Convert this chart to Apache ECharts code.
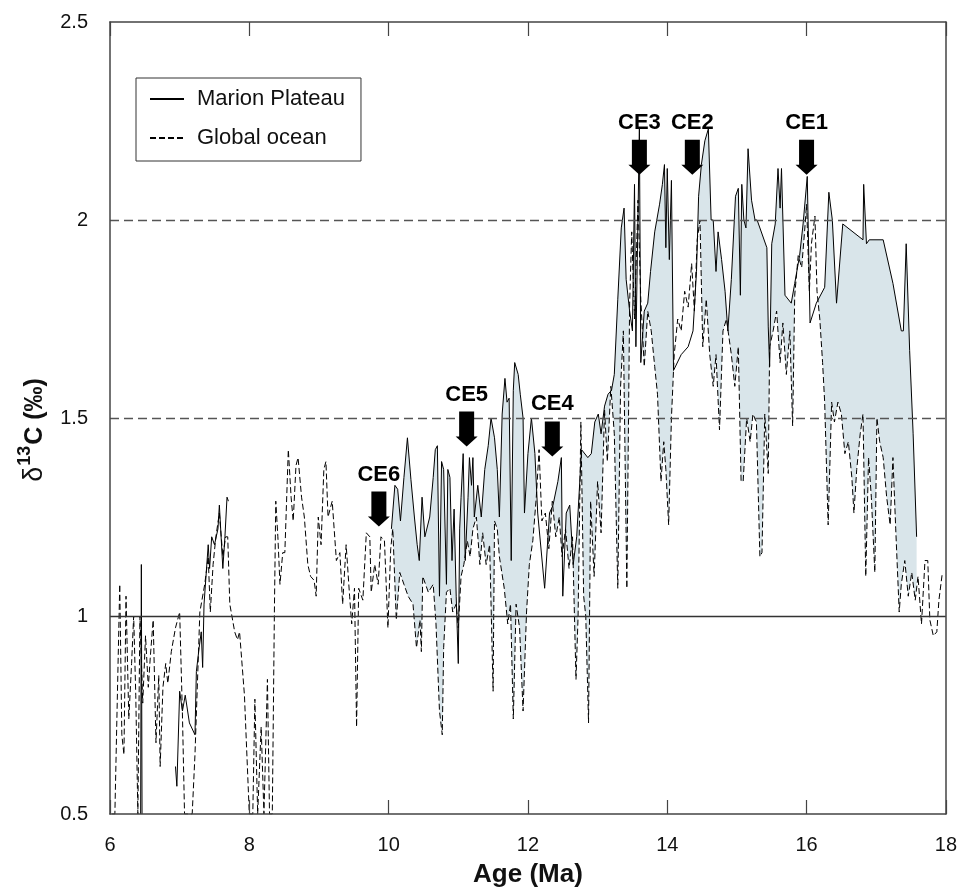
<!DOCTYPE html>
<html>
<head>
<meta charset="utf-8">
<script src="https://cdn.jsdelivr.net/npm/echarts@6/dist/echarts.min.js"></script>
<style>
html,body{margin:0;padding:0;background:#fff;}
#chart{width:960px;height:893px;}
</style>
</head>
<body>
<div id="chart"></div>
<script>
// ---------- DATA ----------
const globalAge = [6.03,6.07,6.10,6.14,6.17,6.20,6.23,6.27,6.31,6.34,6.37,6.40,6.43,6.47,6.51,6.55,6.58,6.62,6.66,6.70,6.72,6.76,6.80,6.83,6.88,6.94,7.00,7.04,7.07,7.12,7.18,7.22,7.29,7.36,7.41,7.44,7.48,7.52,7.57,7.62,7.66,7.69,7.72,7.79,7.83,7.86,7.93,8.00,8.05,8.08,8.12,8.17,8.21,8.26,8.29,8.33,8.36,8.38,8.41,8.44,8.48,8.51,8.56,8.60,8.63,8.67,8.70,8.75,8.79,8.84,8.88,8.93,8.96,8.99,9.03,9.07,9.10,9.13,9.15,9.19,9.25,9.30,9.34,9.39,9.44,9.47,9.51,9.54,9.57,9.63,9.68,9.73,9.75,9.80,9.85,9.89,9.94,9.99,10.03,10.06,10.11,10.16,10.22,10.28,10.35,10.40,10.45,10.47,10.49,10.57,10.64,10.68,10.73,10.77,10.79,10.83,10.88,10.92,10.97,11.00,11.04,11.08,11.13,11.17,11.21,11.26,11.31,11.35,11.40,11.45,11.50,11.52,11.56,11.59,11.66,11.71,11.75,11.79,11.83,11.88,11.93,11.98,12.02,12.07,12.12,12.16,12.20,12.25,12.30,12.35,12.40,12.45,12.49,12.54,12.59,12.64,12.69,12.72,12.76,12.80,12.83,12.87,12.90,12.95,13.00,13.05,13.10,13.14,13.19,13.24,13.29,13.33,13.37,13.42,13.46,13.49,13.53,13.58,13.62,13.67,13.72,13.77,13.82,13.86,13.91,13.95,13.98,14.02,14.06,14.10,14.15,14.20,14.25,14.30,14.35,14.39,14.43,14.47,14.51,14.56,14.61,14.66,14.70,14.75,14.80,14.85,14.92,14.97,15.02,15.06,15.09,15.14,15.19,15.23,15.28,15.33,15.36,15.40,15.45,15.47,15.52,15.57,15.62,15.66,15.71,15.76,15.80,15.83,15.88,15.93,15.98,16.00,16.04,16.07,16.12,16.15,16.19,16.23,16.26,16.31,16.36,16.40,16.45,16.50,16.55,16.60,16.65,16.68,16.72,16.77,16.81,16.85,16.89,16.93,16.98,17.01,17.05,17.10,17.15,17.20,17.24,17.28,17.33,17.36,17.41,17.46,17.51,17.56,17.60,17.65,17.70,17.74,17.77,17.82,17.87,17.90,17.95];
const globalD13C = [0.50,0.50,0.75,1.08,0.70,0.65,1.05,0.74,0.88,1.00,0.80,0.50,1.00,0.78,0.95,0.82,0.90,0.99,0.68,0.85,0.62,0.82,0.88,0.83,0.91,0.97,1.01,0.75,0.50,0.50,0.50,0.65,1.01,1.08,1.15,1.01,1.13,1.20,1.26,1.15,1.20,1.20,1.03,0.96,0.94,0.96,0.80,0.50,0.50,0.79,0.50,0.72,0.50,0.84,0.50,0.50,1.01,1.29,1.20,1.08,1.16,1.16,1.42,1.30,1.24,1.38,1.40,1.30,1.25,1.13,1.10,1.09,1.05,1.25,1.18,1.37,1.39,1.25,1.25,1.29,1.14,1.16,1.03,1.18,1.05,0.98,1.07,0.72,1.07,1.04,1.21,1.20,1.06,1.13,1.08,1.20,1.19,0.97,1.17,1.22,0.99,1.11,1.08,1.05,1.03,0.92,0.99,0.91,1.10,1.06,1.08,0.98,0.76,0.70,0.92,1.06,1.07,1.01,1.03,0.97,1.10,1.13,1.19,1.15,1.22,1.25,1.13,1.21,1.13,1.18,0.81,1.24,1.22,1.15,1.07,0.98,1.03,0.74,1.03,0.97,0.76,1.01,1.13,1.19,1.30,1.42,1.24,1.26,1.17,1.29,1.20,1.25,1.15,1.22,1.12,1.20,0.84,1.00,1.49,1.05,1.00,0.73,1.29,1.10,1.34,1.21,1.52,1.39,1.58,1.46,1.07,1.58,1.72,1.07,1.79,1.97,1.75,2.05,1.80,1.63,1.77,1.72,1.63,1.56,1.34,1.44,1.37,1.23,1.50,1.66,1.75,1.72,1.82,1.78,1.89,1.77,1.95,2.00,1.68,1.80,1.66,1.58,1.66,1.47,1.72,1.75,1.66,1.58,1.68,1.34,1.34,1.50,1.44,1.51,1.49,1.15,1.16,1.51,1.36,1.68,1.72,1.77,1.64,1.74,1.61,1.72,1.48,1.81,1.91,1.88,1.99,2.04,1.82,1.94,2.01,1.82,1.75,1.64,1.54,1.23,1.54,1.49,1.54,1.51,1.41,1.44,1.35,1.26,1.37,1.46,1.51,1.10,1.40,1.30,1.11,1.50,1.44,1.40,1.30,1.23,1.40,1.22,1.01,1.08,1.14,1.05,1.11,1.04,1.10,0.98,1.14,1.14,0.99,0.95,0.96,1.04,1.11];

const marionAge = [6.44,6.45,6.46,6.70,6.94,6.96,7.00,7.04,7.08,7.14,7.22,7.24,7.28,7.31,7.33,7.35,7.41,7.43,7.46,7.50,7.55,7.57,7.62,7.65,7.68,7.70,8.80,10.04,10.09,10.13,10.17,10.22,10.27,10.32,10.37,10.41,10.44,10.48,10.52,10.59,10.64,10.67,10.70,10.73,10.76,10.79,10.83,10.85,10.88,10.91,10.94,10.97,11.00,11.02,11.04,11.07,11.10,11.14,11.16,11.19,11.21,11.23,11.28,11.33,11.38,11.43,11.47,11.52,11.56,11.59,11.63,11.67,11.70,11.73,11.76,11.79,11.81,11.86,11.89,11.93,11.95,12.00,12.05,12.10,12.14,12.24,12.31,12.36,12.43,12.48,12.50,12.55,12.60,12.65,12.70,12.77,12.86,12.91,12.96,13.01,13.05,13.10,13.15,13.20,13.24,13.29,13.34,13.38,13.41,13.46,13.50,13.53,13.55,13.60,13.62,13.67,13.72,13.76,13.82,13.89,13.93,13.96,13.98,14.00,14.03,14.06,14.09,14.20,14.30,14.37,14.42,14.45,14.49,14.54,14.59,14.63,14.66,14.70,14.73,14.78,14.83,14.87,14.92,14.98,15.02,15.05,15.07,15.10,15.13,15.16,15.21,15.26,15.29,15.43,15.45,15.47,15.50,15.55,15.59,15.62,15.64,15.69,15.78,15.83,15.90,15.95,16.01,16.05,16.14,16.26,16.32,16.37,16.39,16.43,16.52,16.81,16.82,16.86,16.90,17.10,17.24,17.36,17.39,17.43,17.48,17.53,17.58];
const marionD13C = [0.50,1.13,0.50,null,0.62,0.57,0.81,0.76,0.80,0.73,0.70,0.86,0.92,0.96,0.87,1.03,1.18,1.12,1.20,1.18,1.22,1.28,1.12,1.20,1.30,1.29,null,1.22,1.33,1.32,1.24,1.35,1.45,1.345,1.25,1.18,1.14,1.30,1.20,1.25,1.35,1.42,1.43,1.05,1.39,1.37,1.08,1.37,1.35,1.14,1.27,1.05,0.88,1.22,1.30,1.41,1.14,1.30,1.40,1.33,1.40,1.25,1.33,1.25,1.37,1.43,1.50,1.45,1.37,1.25,1.51,1.60,1.54,1.55,1.14,1.57,1.64,1.61,1.56,1.50,1.26,1.41,1.50,1.41,1.26,1.07,1.26,1.28,1.34,1.40,1.05,1.26,1.28,1.13,1.20,1.42,1.40,1.41,1.49,1.51,1.46,1.53,1.56,1.57,1.61,1.80,1.98,2.03,1.85,1.77,1.72,2.09,1.68,2.23,1.64,1.77,1.79,1.87,1.97,2.04,2.09,2.14,1.93,2.13,1.90,2.10,1.62,1.66,1.68,1.72,1.87,2.06,2.14,2.20,2.23,2.00,2.00,1.87,1.97,1.90,1.82,1.72,1.85,2.06,2.08,1.81,2.09,2.00,1.98,2.18,2.05,2.00,2.00,1.93,1.73,1.63,1.94,1.99,2.13,2.03,2.13,1.81,1.79,1.84,1.91,1.99,2.11,1.74,1.79,1.83,2.07,2.00,2.00,1.79,1.99,1.95,2.09,1.94,1.95,1.95,1.84,1.72,1.72,1.94,1.67,1.46,1.20];

const eventNames = ['CE1','CE2','CE3','CE4','CE5','CE6'];
const eventAge   = [16.0, 14.36, 13.6, 12.35, 11.12, 9.86];
const eventD13C  = [2.114, 2.114, 2.114, 1.403, 1.428, 1.226];

const xTicks = {min: 6, max: 18, interval: 2};
const yTicks = {min: 0.5, max: 2.5, interval: 0.5};
const refLines = [1.0, 1.5, 2.0];
const fillStartAge = 10.0;

// ---------- BUILD ----------
const globalPairs = globalAge.map((a, i) => [a, globalD13C[i]]);
const marionPairs = marionAge.map((a, i) => [a, marionD13C[i] === null ? '-' : marionD13C[i]]);
const fillPairs = marionAge.map((a, i) => [a, marionD13C[i]]).filter(p => p[0] >= fillStartAge && p[1] !== null);
const eventData = eventNames.map((n, i) => ({name: n, value: [eventAge[i], eventD13C[i]]}));

const FONT = '"Liberation Sans", Arial, Helvetica, sans-serif';
const axisColor = '#444';

const chart = echarts.init(document.getElementById('chart'), null, {renderer: 'canvas'});
chart.setOption({
  animation: false,
  backgroundColor: '#fff',
  textStyle: {fontFamily: FONT},
  grid: {left: 110, right: 14, top: 22, bottom: 78, containLabel: false},
  legend: {
    data: ['Marion Plateau', 'Global ocean'],
    orient: 'vertical',
    left: 136, top: 78,
    padding: [10, 16, 12, 13],
    itemWidth: 34, itemHeight: 14, itemGap: 17,
    borderColor: '#333', borderWidth: 1,
    backgroundColor: '#fff',
    itemStyle: {opacity: 0},
    textStyle: {fontSize: 22, color: '#111', fontFamily: FONT, padding: [0, 0, 0, 8]}
  },
  xAxis: [{
    type: 'value', position: 'bottom', ...xTicks, z: 10,
    axisLine: {show: true, onZero: false, lineStyle: {color: axisColor, width: 1.5}},
    axisTick: {show: true, inside: true, length: 14, lineStyle: {color: axisColor, width: 1.2}},
    axisLabel: {fontSize: 20, color: '#111', margin: 21, fontFamily: FONT},
    splitLine: {show: false},
    name: 'Age (Ma)', nameLocation: 'middle', nameGap: 48,
    nameTextStyle: {fontSize: 26, fontWeight: 'bold', color: '#111', fontFamily: FONT}
  }, {
    type: 'value', position: 'top', ...xTicks, z: 10,
    axisLine: {show: true, onZero: false, lineStyle: {color: axisColor, width: 1.5}},
    axisTick: {show: true, inside: true, length: 14, lineStyle: {color: axisColor, width: 1.2}},
    axisLabel: {show: false}, splitLine: {show: false}
  }],
  yAxis: [{
    type: 'value', position: 'left', ...yTicks, z: 10,
    axisLine: {show: true, onZero: false, lineStyle: {color: axisColor, width: 1.5}},
    axisTick: {show: false},
    axisLabel: {fontSize: 20, color: '#111', margin: 22, fontFamily: FONT},
    splitLine: {show: false},
    name: '{d|δ}{s|13}{c|C (‰)}', nameLocation: 'middle', nameGap: 62, nameRotate: 90,
    nameTextStyle: {
      fontFamily: FONT, color: '#111', padding: [0, 24, 0, 0],
      rich: {
        d: {fontSize: 27, fontFamily: FONT, color: '#111', verticalAlign: 'bottom', lineHeight: 32},
        s: {fontSize: 18, fontWeight: 'bold', fontFamily: FONT, color: '#111', verticalAlign: 'top', lineHeight: 32, padding: [0, 1, 10, 1]},
        c: {fontSize: 25, fontWeight: 'bold', fontFamily: FONT, color: '#111', verticalAlign: 'bottom', lineHeight: 32}
      }
    }
  }, {
    type: 'value', position: 'right', ...yTicks, z: 10,
    axisLine: {show: true, onZero: false, lineStyle: {color: axisColor, width: 1.5}},
    axisTick: {show: false}, axisLabel: {show: false}, splitLine: {show: false}
  }],
  series: [
    {
      name: 'fill', type: 'line', data: fillPairs, symbol: 'none', silent: true, z: 1,
      lineStyle: {width: 0, opacity: 0},
      areaStyle: {color: '#d9e5ea', opacity: 1, origin: 'start'}
    },
    {
      name: 'mask', type: 'line', data: globalPairs, symbol: 'none', silent: true, z: 2,
      lineStyle: {width: 0, opacity: 0},
      areaStyle: {color: '#ffffff', opacity: 1, origin: 'start'}
    },
    {
      name: 'Global ocean', type: 'line', data: globalPairs, symbol: 'none', z: 3,
      lineStyle: {color: '#000', width: 1, type: [6, 3]},
      itemStyle: {color: '#000'},
      markLine: {
        silent: true, symbol: ['none', 'none'], label: {show: false},
        data: refLines.map(v => ({
          yAxis: v,
          lineStyle: v === 1.0 ? {type: 'solid', color: '#333', width: 1.3}
                               : {type: [9, 5], color: '#555', width: 1.3}
        }))
      }
    },
    {
      name: 'Marion Plateau', type: 'line', data: marionPairs, symbol: 'none', z: 4,
      connectNulls: false,
      lineStyle: {color: '#000', width: 1, type: 'solid'},
      itemStyle: {color: '#000'}
    },
    {
      name: 'events', type: 'scatter', data: eventData, z: 6, silent: true,
      symbol: 'path://M3.5,0L18.5,0L18.5,25L22,25L11,35L0,25L3.5,25Z',
      symbolSize: [22, 35], symbolOffset: [0, -17.5],
      itemStyle: {color: '#000', opacity: 1},
      label: {show: true, position: 'top', distance: 6, formatter: p => p.name,
              fontSize: 22, fontWeight: 'bold', color: '#000', fontFamily: FONT}
    }
  ]
});
</script>
</body>
</html>
